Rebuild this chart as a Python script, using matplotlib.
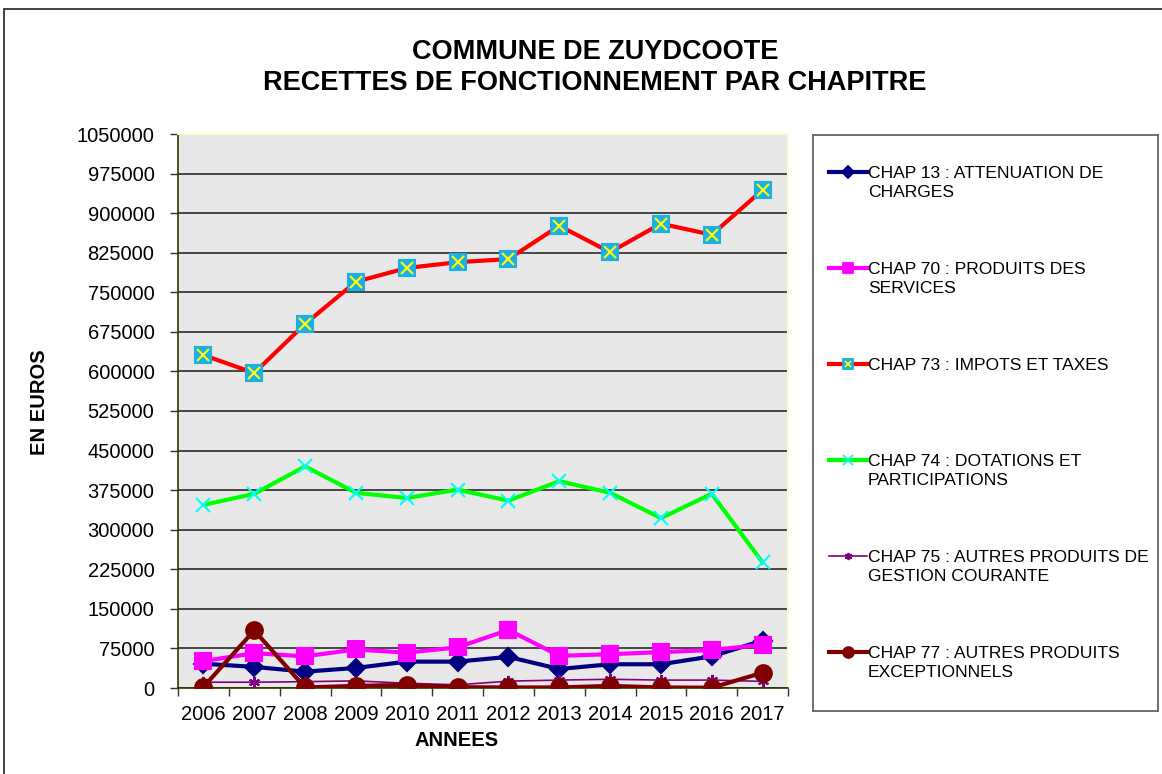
import matplotlib
matplotlib.use("Agg")
import matplotlib.pyplot as plt
from matplotlib.lines import Line2D
from matplotlib.patches import Rectangle

plt.rcParams['font.family'] = ['Liberation Sans', 'DejaVu Sans']

years = ["2006", "2007", "2008", "2009", "2010", "2011", "2012", "2013", "2014", "2015", "2016", "2017"]
chap13 = [46000, 40000, 31000, 38000, 50000, 50000, 59000, 36000, 45000, 45000, 60000, 90000]
chap70 = [51000, 66000, 60000, 73000, 67000, 77000, 110000, 61000, 64000, 68000, 72000, 82000]
chap73 = [631000, 597000, 690000, 770000, 796000, 807000, 813000, 876000, 826000, 880000, 859000, 944000]
chap74 = [347000, 368000, 420000, 370000, 360000, 376000, 355000, 392000, 370000, 322000, 368000, 238000]
chap75 = [11000, 11000, 12000, 13500, 9000, 6000, 13000, 15000, 16500, 15000, 15000, 12500]
chap77 = [2000, 109000, 1000, 4000, 6000, 1500, 1000, 1000, 4000, 1000, 500, 29000]
labels = ["CHAP 13 : ATTENUATION DE\nCHARGES",
          "CHAP 70 : PRODUITS DES\nSERVICES",
          "CHAP 73 : IMPOTS ET TAXES",
          "CHAP 74 : DOTATIONS ET\nPARTICIPATIONS",
          "CHAP 75 : AUTRES PRODUITS DE\nGESTION COURANTE",
          "CHAP 77 : AUTRES PRODUITS\nEXCEPTIONNELS"]
yticks = list(range(0, 1050001, 75000))

W, H = 1162, 774
fig = plt.figure(figsize=(W / 100, H / 100), dpi=100)

def fx(px):
    return px / W

def fy(py):
    return 1 - py / H

# outer chart frame
fig.patches.append(Rectangle((fx(4), -0.1), 1.2, fy(9) + 0.1, transform=fig.transFigure,
                             fill=False, edgecolor='#333333', linewidth=1.3))

ax = fig.add_axes([fx(178), fy(688), fx(788) - fx(178), fy(134) - fy(688)])
ax.set_facecolor('#E8E8E8')
x = list(range(len(years)))

series = [
    dict(y=chap13, color='#000080', lw=3, marker='D', ms=9, mfc='#000080', mec='#000080'),
    dict(y=chap70, color='#FF00FF', lw=3, marker='s', ms=11, mfc='#FF00FF', mec='#FF00FF'),
    dict(y=chap73, color='#FF0000', lw=3, marker='s', ms=11, mfc='#1AAFE6', mec='#1AAFE6'),
    dict(y=chap74, color='#00FF00', lw=3, marker='x', ms=10, mfc='#00FFFF', mec='#00FFFF'),
    dict(y=chap75, color='#800080', lw=1.2, marker=(6, 2, 0), ms=8, mfc='#800080', mec='#800080'),
    dict(y=chap77, color='#800000', lw=3, marker='o', ms=12, mfc='#800000', mec='#800000'),
]
for i, s in enumerate(series):
    ax.plot(x, s['y'], color=s['color'], lw=s['lw'], marker=s['marker'], ms=s['ms'],
            mfc=s['mfc'], mec=s['mec'], mew=1.5, zorder=3 + i, solid_joinstyle='round')
    if i == 2:
        ax.plot(x, s['y'], ls='none', marker='x', ms=8, mec='#FFFF00', mew=1.5, zorder=3 + i)

ax.set_xlim(-0.5, len(years) - 0.5)
ax.set_ylim(0, 1050000)
ax.set_yticks(yticks)
ax.set_yticklabels([str(v) for v in yticks], fontsize=14.5)
ax.yaxis.grid(True, color='#3a3a3a', lw=1.3)
ax.set_axisbelow(True)
ax.tick_params(axis='y', length=6, width=1, direction='out', pad=11, color='#333333')

ax.set_xticks([i - 0.5 for i in range(len(years) + 1)])
ax.set_xticklabels([])
ax.set_xticks(x, minor=True)
ax.set_xticklabels(years, minor=True, fontsize=14.5)
ax.tick_params(axis='x', which='major', length=6, width=1, direction='out', color='#333333')
ax.tick_params(axis='x', which='minor', length=0, pad=12)

for side in ['left', 'bottom']:
    ax.spines[side].set_color('#333300')
    ax.spines[side].set_linewidth(1.2)
for side in ['top', 'right']:
    ax.spines[side].set_color('#FFFFCC')
    ax.spines[side].set_linewidth(1.5)

fig.text(fx(595), fy(52), "COMMUNE DE ZUYDCOOTE", ha='center', va='center',
         fontsize=19.5, fontweight='bold')
fig.text(fx(595), fy(83), "RECETTES DE FONCTIONNEMENT PAR CHAPITRE", ha='center', va='center',
         fontsize=19.5, fontweight='bold')
fig.text(fx(40), fy(402), "EN EUROS", rotation=90, ha='center', va='center',
         fontsize=14.5, fontweight='bold')
fig.text(fx(457), fy(740), "ANNEES", ha='center', va='center',
         fontsize=14.5, fontweight='bold')

# legend box
lg = fig.add_axes([fx(813), fy(711), fx(1158) - fx(813), fy(135) - fy(711)])
lg.set_xlim(813, 1158)
lg.set_ylim(711, 135)
lg.set_xticks([])
lg.set_yticks([])
for sp in lg.spines.values():
    sp.set_color('#666666')
    sp.set_linewidth(1.3)
row_y = [172 + 96 * i for i in range(6)]
for i, (s, lab) in enumerate(zip(series, labels)):
    yy = row_y[i]
    lg.add_line(Line2D([829, 867], [yy, yy], color=s['color'], lw=s['lw']))
    lg.add_line(Line2D([848], [yy], color=s['color'], marker=s['marker'], ms=s['ms'] * 0.65,
                       mfc=s['mfc'], mec=s['mec'], mew=1.3))
    if i == 2:
        lg.add_line(Line2D([848], [yy], marker='x', ms=5, mec='#FFFF00', mew=1.3))
    lg.text(868, yy - 6, lab, ha='left', va='top', fontsize=12.6, linespacing=1.35)

fig.savefig("out.png", dpi=100)
